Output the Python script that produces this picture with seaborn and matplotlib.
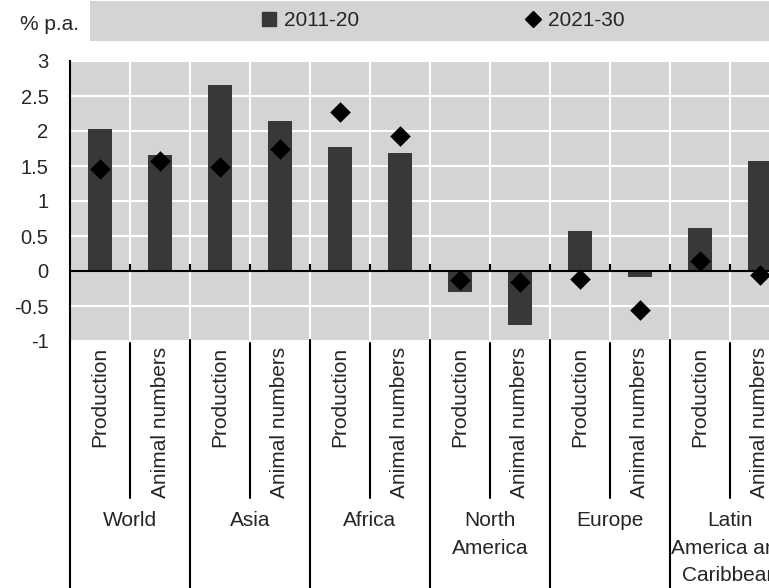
import matplotlib
matplotlib.use("Agg")
import matplotlib.pyplot as plt
import matplotlib.transforms as mtransforms
from matplotlib.lines import Line2D
from matplotlib.patches import Rectangle
import seaborn as sns
import pandas as pd

# ---------------- data ----------------
regions = ["World", "Asia", "Africa", "North\nAmerica", "Europe",
           "Latin\nAmerica and\nCaribbean"]
measures = ["Production", "Animal numbers"]
values_2011_20 = [2.03, 1.66, 2.66, 2.14, 1.77, 1.69,
                  -0.30, -0.77, 0.57, -0.08, 0.62, 1.57]
values_2021_30 = [1.46, 1.57, 1.49, 1.74, 2.27, 1.93,
                  -0.13, -0.16, -0.12, -0.56, 0.14, -0.06]
y_ticks = [-1, -0.5, 0, 0.5, 1, 1.5, 2, 2.5, 3]
y_tick_labels = ["-1", "-0.5", "0", "0.5", "1", "1.5", "2", "2.5", "3"]
series_labels = ["2011-20", "2021-30"]
unit_label = "% p.a."

# ---------------- style ----------------
sns.set_style("white")
plt.rcParams["font.family"] = ["Liberation Sans", "DejaVu Sans"]
plt.rcParams["axes.unicode_minus"] = False

BAR = "#383838"
BG = "#d4d4d4"
FS = 15

W, H = 769, 588
fig = plt.figure(figsize=(W / 100, H / 100), dpi=100)
ax = fig.add_axes([70 / W, (H - 341) / H, 720 / W, 280 / H])

keys = [f"{r}|{m}" for r in regions for m in measures]
df = pd.DataFrame({
    "key": keys,
    "measure": [m for r in regions for m in measures],
    "v1": values_2011_20,
    "v2": values_2021_30,
})

sns.barplot(data=df, x="key", y="v1", order=keys, color=BAR, saturation=1,
            width=0.4, linewidth=0, ax=ax, zorder=2)
sns.stripplot(data=df, x="key", y="v2", order=keys, jitter=False, marker="D",
              color="black", size=10.5, linewidth=0, ax=ax, zorder=4)

n = len(keys)
ax.set_xlim(-0.5, n - 0.5)
ax.set_ylim(-1, 3)
ax.set_facecolor(BG)
ax.set_axisbelow(True)

# grid
ax.set_yticks(y_ticks)
ax.set_yticklabels(y_tick_labels)
ax.yaxis.grid(True, color="white", lw=1.5, zorder=0)
bounds = [i + 0.5 for i in range(n - 1)]
ax.set_xticks(range(n))
ax.set_xticklabels(df["measure"], rotation=90, va="top", ha="center", fontsize=FS)
ax.set_xticks(bounds, minor=True)
ax.xaxis.grid(False, which="major")
ax.xaxis.grid(True, which="minor", color="white", lw=1.5, zorder=0)
ax.tick_params(axis="x", which="both", length=0, pad=4.3)
ax.tick_params(axis="y", direction="in", length=5, width=1.5, color="black",
               pad=15.5, labelsize=14.5)
ax.set_xlabel("")
ax.set_ylabel("")

for s in ["top", "right", "bottom"]:
    ax.spines[s].set_visible(False)
ax.spines["left"].set_color("black")
ax.spines["left"].set_linewidth(1.5)

# zero line with small ticks
ax.axhline(0, color="black", lw=1.5, zorder=3)
ax.vlines(bounds, 0, 0.1, color="black", lw=1.5, zorder=3)

# category separators below the plot
trans = mtransforms.blended_transform_factory(ax.transData, fig.transFigure)
for i in range(len(regions)):
    xi = 2 * i + 0.5
    ax.plot([xi, xi], [1 - 343 / H, 1 - 498 / H], transform=trans,
            color="black", lw=1.5, clip_on=False)
for i in range(len(regions) + 1):
    xg = 2 * i - 0.5
    ax.plot([xg, xg], [1 - 340 / H, 0], transform=trans,
            color="black", lw=1.5, clip_on=False)
for i, r in enumerate(regions):
    ax.text(2 * i + 0.5, 1 - 511 / H, r, transform=trans, ha="center",
            va="top", fontsize=FS, linespacing=1.58, multialignment="center")

# legend band
fig.patches.append(Rectangle((90 / W, 1 - 41 / H), 1.0, 40 / H,
                             transform=fig.transFigure, facecolor=BG,
                             edgecolor="none", zorder=0))
handles = [Line2D([], [], marker="s", ls="", color=BAR, ms=10),
           Line2D([], [], marker="D", ls="", color="black", ms=8)]
leg = fig.legend(handles, series_labels, loc="center left",
                 bbox_to_anchor=(262 / W, 1 - 20.5 / H), bbox_transform=fig.transFigure,
                 ncol=2, frameon=False, borderpad=0, borderaxespad=0,
                 handlelength=0.7, handletextpad=0.35, columnspacing=8.0,
                 fontsize=FS)
fig.text(20 / W, 1 - 30 / H, unit_label, ha="left", va="baseline", fontsize=FS)

fig.savefig("out.png", dpi=100)
